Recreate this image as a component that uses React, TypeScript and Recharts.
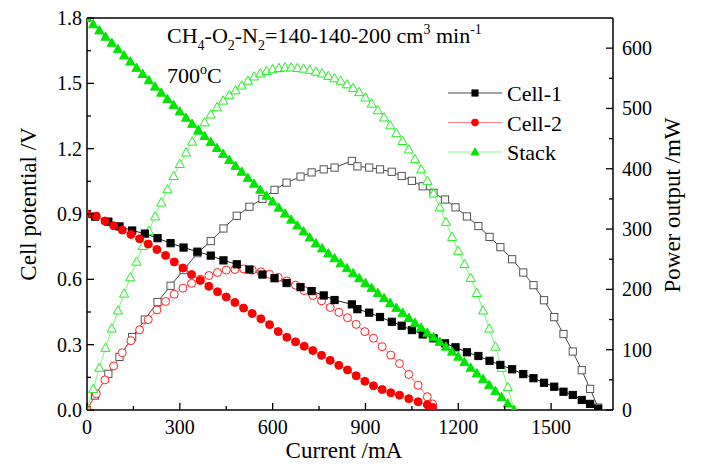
import React from "react"
import { LineChart, Line, XAxis, YAxis, ReferenceLine } from "recharts"

const FONT = "'Liberation Serif', 'Times New Roman', serif"

// ---- data ----
const stackCurrent = [
  0, 20, 40, 60, 80, 100, 120, 140, 160, 180, 200, 220, 240, 260, 280, 300, 320, 340, 360, 380,
  400, 420, 440, 460, 480, 500, 520, 540, 560, 580, 600, 620, 640, 660, 680, 700, 720, 740, 760, 780,
  800, 820, 840, 860, 880, 900, 920, 940, 960, 980, 1000, 1020, 1040, 1060, 1080, 1100, 1120, 1140, 1160, 1180,
  1200, 1220, 1240, 1260, 1280, 1300, 1320, 1340, 1360, 1380,
]
const stackVoltage = [
  1.8, 1.771, 1.743, 1.714, 1.686, 1.657, 1.628, 1.6, 1.571, 1.543, 1.514, 1.485, 1.457, 1.428, 1.4, 1.371, 1.342, 1.314, 1.285, 1.258,
  1.231, 1.203, 1.176, 1.148, 1.121, 1.094, 1.066, 1.039, 1.011, 0.984, 0.957, 0.929, 0.902, 0.874, 0.847, 0.82, 0.792, 0.765, 0.742, 0.719,
  0.697, 0.674, 0.651, 0.628, 0.605, 0.583, 0.56, 0.537, 0.514, 0.491, 0.469, 0.446, 0.423, 0.4, 0.378, 0.355, 0.334, 0.313, 0.291, 0.268,
  0.245, 0.22, 0.194, 0.168, 0.142, 0.115, 0.087, 0.059, 0.03, 0,
]
const stackPower = [
  0, 35, 70, 103, 135, 165, 193, 220, 246, 272, 297, 321, 344, 366, 388, 408, 427, 445, 463, 477,
  490, 502, 513, 522, 530, 538, 546, 553, 558, 562, 565, 567, 568, 568, 567, 566, 564, 561, 558, 554,
  550, 546, 540, 534, 527, 518, 508, 497, 485, 472, 459, 446, 432, 416, 399, 380, 359, 336, 312, 287,
  264, 242, 219, 194, 165, 135, 105, 70, 38, 0,
]

const cell1Current = [
  0, 26, 69, 105, 146, 187, 228, 270, 312, 357, 400, 441, 484, 525, 567, 606, 645, 690, 726, 765,
  800, 856, 874, 912, 947, 985, 1017, 1050, 1085, 1120, 1157, 1191, 1228, 1265, 1301, 1336, 1374, 1410, 1443, 1477,
  1510, 1540, 1570, 1599, 1626, 1652,
]
const cell1Voltage = [
  0.9, 0.888, 0.865, 0.843, 0.824, 0.81, 0.789, 0.766, 0.746, 0.727, 0.709, 0.687, 0.669, 0.645, 0.622, 0.605, 0.583, 0.564, 0.546, 0.526,
  0.505, 0.485, 0.463, 0.447, 0.427, 0.405, 0.387, 0.367, 0.347, 0.329, 0.306, 0.288, 0.265, 0.248, 0.226, 0.207, 0.187, 0.165, 0.146, 0.125,
  0.107, 0.084, 0.069, 0.046, 0.028, 0.006,
]
const cell1Power = [
  0, 24, 60, 88, 121, 150, 179, 206, 232, 260, 280, 301, 322, 337, 350, 365, 377, 387, 394, 399,
  402, 413, 404, 402, 399, 395, 388, 380, 371, 360, 349, 336, 321, 305, 287, 270, 250, 228, 207, 182,
  154, 126, 97, 66, 35, 4,
]

const cell2Current = [
  0, 30, 58, 86, 114, 142, 170, 198, 226, 254, 282, 310, 338, 366, 394, 422, 450, 478, 506, 534,
  562, 590, 618, 646, 674, 702, 730, 758, 786, 814, 842, 870, 898, 926, 954, 982, 1010, 1040, 1070, 1100,
  1117,
]
const cell2Voltage = [
  0.9, 0.89, 0.868, 0.846, 0.826, 0.806, 0.786, 0.762, 0.737, 0.71, 0.68, 0.652, 0.622, 0.595, 0.568, 0.543, 0.519, 0.494, 0.468, 0.443,
  0.419, 0.392, 0.36, 0.334, 0.313, 0.293, 0.273, 0.251, 0.228, 0.205, 0.184, 0.157, 0.132, 0.111, 0.094, 0.079, 0.068, 0.052, 0.038, 0.024,
  0.012,
]
const cell2Power = [
  0, 27, 50, 73, 95, 115, 133, 150, 166, 180, 192, 202, 210, 217, 223, 228, 232, 233, 234, 232,
  229, 225, 220, 214, 207, 198, 190, 181, 170, 162, 153, 142, 130, 119, 105, 91, 77, 59, 41, 22,
  10,
]

const xTicks = [0, 150, 300, 450, 600, 750, 900, 1050, 1200, 1350, 1500, 1650]
const leftTicks = [0, 0.15, 0.3, 0.45, 0.6, 0.75, 0.9, 1.05, 1.2, 1.35, 1.5, 1.65, 1.8]
const rightTicks = [0, 50, 100, 150, 200, 250, 300, 350, 400, 450, 500, 550, 600]

const legendItems = [
  { name: "Cell-1", line: "#444", shape: "square", color: "#000" },
  { name: "Cell-2", line: "#ff8080", shape: "circle", color: "#ff0000" },
  { name: "Stack", line: "#80ff80", shape: "triangle", color: "#00e600" },
]

const build = (cur: number[], v: number[], p: number[]) => cur.map((i, k) => ({ i, v: v[k], p: p[k] }))
const stackData = build(stackCurrent, stackVoltage, stackPower)
const cell1Data = build(cell1Current, cell1Voltage, cell1Power)
const cell2Data = build(cell2Current, cell2Voltage, cell2Power)

function Shape({ shape, cx, cy, fill, stroke, small }: any) {
  const s = small ? 0.85 : 1
  if (shape === "square") {
    const h = 3.6 * s
    return <rect x={cx - h} y={cy - h} width={2 * h} height={2 * h} fill={fill} stroke={stroke} strokeWidth={1} />
  }
  if (shape === "circle") {
    return <circle cx={cx} cy={cy} r={4 * s} fill={fill} stroke={stroke} strokeWidth={1} />
  }
  return (
    <polygon
      points={`${cx},${cy - 4.8 * s} ${cx - 4.6 * s},${cy + 3.5 * s} ${cx + 4.6 * s},${cy + 3.5 * s}`}
      fill={fill}
      stroke={stroke}
      strokeWidth={1}
    />
  )
}

const marker = (shape: string, fill: string, stroke: string) => (props: any) => {
  const { cx, cy, index } = props
  if (cx == null || cy == null) return <g key={`m-${index}`} />
  return (
    <g key={`m-${index}`}>
      <Shape shape={shape} cx={cx} cy={cy} fill={fill} stroke={stroke} />
    </g>
  )
}

const XTick = (props: any) => {
  const { x, y, payload } = props
  const major = payload.value % 300 === 0
  return (
    <g>
      <line x1={x} x2={x} y1={y} y2={y - (major ? 7 : 4)} stroke="#000" strokeWidth={1.3} />
      {major && (
        <text x={x} y={y + 24} textAnchor="middle" fontSize={20} fontFamily={FONT} fill="#000">
          {payload.value}
        </text>
      )}
    </g>
  )
}

const LeftTick = (props: any) => {
  const { x, y, payload } = props
  const major = Math.round(payload.value * 100) % 30 === 0
  return (
    <g>
      <line x1={x} x2={x + (major ? 7 : 4)} y1={y} y2={y} stroke="#000" strokeWidth={1.3} />
      {major && (
        <text x={x - 5} y={y + 7} textAnchor="end" fontSize={20} fontFamily={FONT} fill="#000">
          {payload.value.toFixed(1)}
        </text>
      )}
    </g>
  )
}

const RightTick = (props: any) => {
  const { x, y, payload } = props
  const major = payload.value % 100 === 0
  return (
    <g>
      <line x1={x} x2={x - (major ? 7 : 4)} y1={y} y2={y} stroke="#000" strokeWidth={1.3} />
      {major && (
        <text x={x + 9} y={y + 7} textAnchor="start" fontSize={20} fontFamily={FONT} fill="#000">
          {payload.value}
        </text>
      )}
    </g>
  )
}

export default function App() {
  const axisLine = { stroke: "#000", strokeWidth: 1.5 }
  return (
    <div style={{ position: "absolute", left: 0, top: 0, width: 702, height: 466, background: "#fff" }}>
      <LineChart width={702} height={466} margin={{ top: 18, right: 0, bottom: 0, left: 0 }}>
        <XAxis
          type="number"
          dataKey="i"
          domain={[0, 1700]}
          ticks={xTicks}
          height={56}
          tickSize={0}
          tickMargin={0}
          tickLine={false}
          axisLine={axisLine}
          tick={<XTick />}
          allowDataOverflow
        />
        <YAxis
          yAxisId="left"
          type="number"
          domain={[0, 1.8]}
          ticks={leftTicks}
          width={87}
          tickSize={0}
          tickMargin={0}
          tickLine={false}
          axisLine={axisLine}
          tick={<LeftTick />}
          allowDataOverflow
        />
        <YAxis
          yAxisId="right"
          orientation="right"
          type="number"
          domain={[0, 650]}
          ticks={rightTicks}
          width={89}
          tickSize={0}
          tickMargin={0}
          tickLine={false}
          axisLine={axisLine}
          tick={<RightTick />}
          allowDataOverflow
        />
        <ReferenceLine yAxisId="left" y={1.8} stroke="#000" strokeWidth={1.5} />

        {/* power curves (open symbols) */}
        <Line data={cell1Data} yAxisId="right" dataKey="p" type="linear" stroke="#444" strokeWidth={1}
          dot={marker("square", "#fff", "#555")} isAnimationActive={false} />
        <Line data={cell2Data} yAxisId="right" dataKey="p" type="linear" stroke="#ff7070" strokeWidth={1}
          dot={marker("circle", "#fff", "#ff2020")} isAnimationActive={false} />
        <Line data={stackData} yAxisId="right" dataKey="p" type="linear" stroke="#70ff70" strokeWidth={1}
          dot={marker("triangle", "#fff", "#22ee22")} isAnimationActive={false} />

        {/* voltage curves (filled symbols) */}
        <Line data={cell1Data} yAxisId="left" dataKey="v" type="linear" stroke="#222" strokeWidth={1}
          dot={marker("square", "#000", "#000")} isAnimationActive={false} />
        <Line data={cell2Data} yAxisId="left" dataKey="v" type="linear" stroke="#ff6060" strokeWidth={1}
          dot={marker("circle", "#ff0000", "#ff0000")} isAnimationActive={false} />
        <Line data={stackData} yAxisId="left" dataKey="v" type="linear" stroke="#60ff60" strokeWidth={1}
          dot={marker("triangle", "#00e600", "#00e600")} isAnimationActive={false} />
      </LineChart>

      <svg
        width={702}
        height={466}
        style={{ position: "absolute", left: 0, top: 0, pointerEvents: "none" }}
        fontFamily={FONT}
      >
        <text x={167} y={43} fontSize={22} fill="#000">
          CH<tspan dy={7} fontSize={14}>4</tspan>
          <tspan dy={-7}>-O</tspan>
          <tspan dy={7} fontSize={14}>2</tspan>
          <tspan dy={-7}>-N</tspan>
          <tspan dy={7} fontSize={14}>2</tspan>
          <tspan dy={-7}>=140-140-200 cm</tspan>
          <tspan dy={-9} fontSize={14}>3</tspan>
          <tspan dy={9}> min</tspan>
          <tspan dy={-9} fontSize={14}>-1</tspan>
        </text>
        <text x={167} y={83} fontSize={22} fill="#000">
          700<tspan dy={-9} fontSize={14}>o</tspan>
          <tspan dy={9}>C</tspan>
        </text>

        {legendItems.map((it, k) => {
          const y = 93 + k * 29.5
          return (
            <g key={it.name}>
              <line x1={448} x2={502} y1={y} y2={y} stroke={it.line} strokeWidth={1.2} />
              <Shape shape={it.shape} cx={475} cy={y} fill={it.color} stroke={it.color} small />
              <text x={507} y={y + 8} fontSize={22} fill="#000">{it.name}</text>
            </g>
          )
        })}

        <text x={344} y={458} fontSize={23} textAnchor="middle" fill="#000">Current /mA</text>
        <text transform="translate(36,204) rotate(-90)" fontSize={23} textAnchor="middle" fill="#000">
          Cell potential /V
        </text>
        <text transform="translate(680,205) rotate(-90)" fontSize={23} textAnchor="middle" fill="#000">
          Power output /mW
        </text>
      </svg>
    </div>
  )
}
